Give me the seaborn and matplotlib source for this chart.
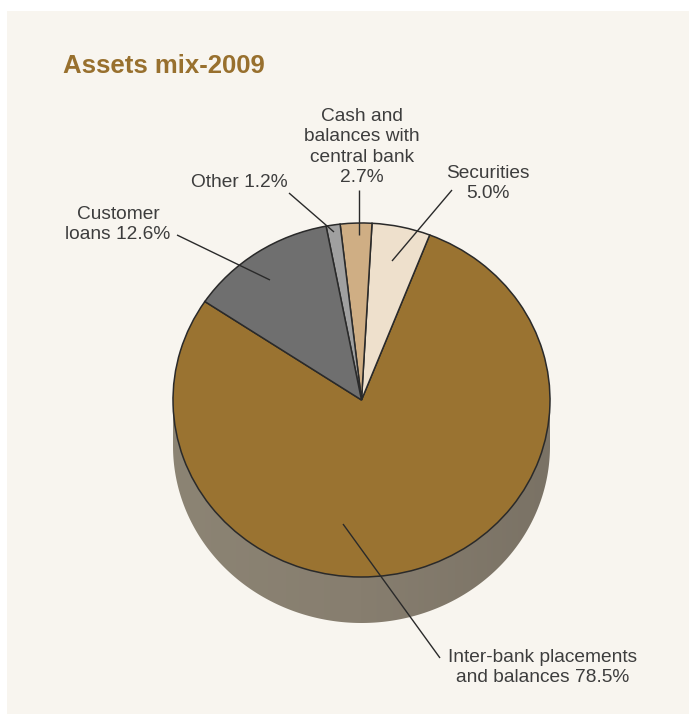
import numpy as np
import matplotlib
matplotlib.use("Agg")
import matplotlib.pyplot as plt
import seaborn as sns
from matplotlib.patches import Rectangle, Polygon
from matplotlib.colors import LinearSegmentedColormap

sns.set_theme(style="white")
plt.rcParams["font.family"] = ["Liberation Sans", "DejaVu Sans"]

# ---- data ----
title = "Assets mix-2009"
categories = ["Inter-bank placements\nand balances", "Securities",
              "Cash and\nbalances with\ncentral bank", "Other", "Customer\nloans"]
shares = [78.5, 5.0, 2.7, 1.2, 12.6]
label_seps = [" ", "\n", "\n", " ", " "]
slice_colors = ["#9a7331", "#eee0cc", "#cfae84", "#a0a0a0", "#6f6f6f"]

# ---- layout (pixels) ----
W, H = 689, 714
cx, cy, rx, ry = 361.5, 400.0, 188.5, 177.0
depth_px = 46.0

def P(px, py):
    return ((px - cx) / rx, (cy - py) / ry)

fig = plt.figure(figsize=(W / 100, H / 100), dpi=100, facecolor="white")
ax = fig.add_axes([0, 0, 1, 1])
ax.set_facecolor("none")
ax.add_patch(Rectangle((7 / W, 0), 1 - 7 / W, 1 - 11 / H,
                       transform=fig.transFigure, facecolor="#f8f5ef",
                       edgecolor="none", zorder=0))

# extrusion (side of the 3D pie)
d = depth_px / ry
t1 = np.linspace(np.pi, 2 * np.pi, 300)
t2 = np.linspace(0, np.pi, 300)
verts = np.vstack([np.column_stack([np.cos(t1), np.sin(t1) - d]),
                   np.column_stack([np.cos(t2), np.sin(t2)])])
side = Polygon(verts, closed=True, facecolor="none", edgecolor="none")
ax.add_patch(side)
side_cmap = LinearSegmentedColormap.from_list(
    "side", ["#8c8474", "#877e6f", "#7a7265"])
grad = np.linspace(0, 1, 256)[None, :]
im = ax.imshow(grad, extent=(-1, 1, -1 - d, 1), aspect="auto", cmap=side_cmap,
               zorder=2, interpolation="bilinear")
im.set_clip_path(side)

# pie top
wedges, _ = ax.pie(shares, colors=slice_colors, startangle=146.2,
                   counterclock=True,
                   wedgeprops=dict(edgecolor="#2a2a2a", linewidth=1.1))
for w in wedges:
    w.set_zorder(3)

ax.set_aspect("auto")
ax.set_xlim((0 - cx) / rx, (W - cx) / rx)
ax.set_ylim((cy - H) / ry, cy / ry)
ax.axis("off")

# labels (y = baseline of the last line)
labels = [f"{c}{s}{v:.1f}%" for c, s, v in zip(categories, label_seps, shares)]
text_pos = [(543, 682), (488, 198), (362, 182), (239, 187), (118, 239)]
leaders = [((343, 524), (440, 658)), ((392, 261), (452, 190)),
           ((359, 235), (359, 190)), ((334, 232), (289, 193)),
           ((270, 280), (177, 235))]

for lab, (tx, ty), (p0, p1) in zip(labels, text_pos, leaders):
    x, y = P(tx, ty)
    ax.text(x, y, lab, ha="center", va="baseline", fontsize=13.8,
            color="#3d3d3d", linespacing=1.26, zorder=6)
    a, b = P(*p0), P(*p1)
    ax.plot([a[0], b[0]], [a[1], b[1]], color="#2a2a2a", lw=1.0, zorder=5,
            solid_capstyle="butt")

tx, ty = P(63, 73)
ax.text(tx, ty, title, ha="left", va="baseline", fontsize=18.5,
        fontweight="bold", color="#98702e", zorder=6)

fig.savefig("out.png", dpi=100, facecolor="white")
